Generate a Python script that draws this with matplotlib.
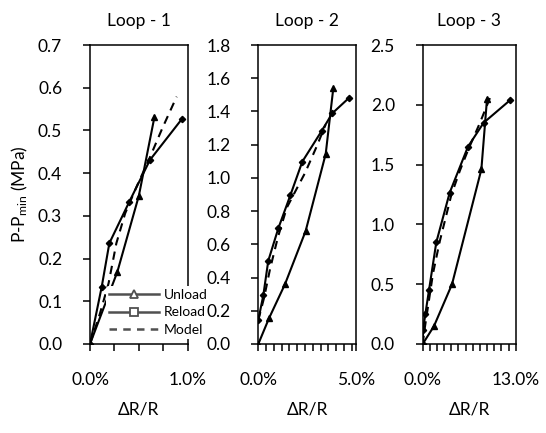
import matplotlib
matplotlib.use("Agg")
import matplotlib.pyplot as plt
from matplotlib.lines import Line2D
from matplotlib.ticker import FixedLocator, FuncFormatter

plt.rcParams['font.family'] = ['Lato', 'DejaVu Sans']
plt.rcParams['mathtext.fontset'] = 'custom'
plt.rcParams['mathtext.rm'] = 'Lato'
plt.rcParams['mathtext.it'] = 'Lato'

titles = ["Loop - 1", "Loop - 2", "Loop - 3"]

# Loop 1 (x in %)
unload1_x = [0, 0.28, 0.50, 0.66]
unload1_y = [0, 0.169, 0.347, 0.532]
reload1_x = [0, 0.12, 0.198, 0.40, 0.614, 0.938]
reload1_y = [0, 0.134, 0.236, 0.332, 0.431, 0.526]
model1_x = [0, 0.10, 0.19, 0.27, 0.36, 0.48, 0.60, 0.74, 0.887]
model1_y = [0, 0.07, 0.142, 0.236, 0.306, 0.37, 0.43, 0.505, 0.579]

# Loop 2
unload2_x = [0, 0.55, 1.37, 2.43, 3.46, 3.85]
unload2_y = [0, 0.155, 0.36, 0.68, 1.144, 1.54]
reload2_x = [0, 0.26, 0.51, 1.03, 1.65, 2.26, 3.25, 3.80, 4.67]
reload2_y = [0.144, 0.295, 0.50, 0.697, 0.897, 1.098, 1.282, 1.389, 1.483]
model2_x = [0, 0.30, 0.60, 1.00, 1.46, 1.95, 2.40, 3.00, 3.45]
model2_y = [0.144, 0.28, 0.45, 0.64, 0.82, 0.93, 1.03, 1.19, 1.32]

# Loop 3
unload3_x = [0, 1.58, 4.10, 8.2, 8.99]
unload3_y = [0, 0.15, 0.50, 1.46, 2.05]
reload3_x = [0, 0.04, 0.37, 0.88, 1.90, 3.77, 6.33, 8.52, 12.24]
reload3_y = [0, 0.117, 0.25, 0.45, 0.85, 1.265, 1.65, 1.85, 2.04]
model3_x = [0, 0.28, 1.44, 2.37, 4.0, 5.2, 6.33, 7.97, 9.69]
model3_y = [0, 0.13, 0.59, 0.855, 1.246, 1.45, 1.62, 1.845, 2.10]

xmax = [1.0, 5.0, 13.0]
xstep = [0.25, 0.4, 1.0]
ymax = [0.7, 1.8, 2.5]
ystep = [0.1, 0.2, 0.5]

data = [
    (unload1_x, unload1_y, reload1_x, reload1_y, model1_x, model1_y),
    (unload2_x, unload2_y, reload2_x, reload2_y, model2_x, model2_y),
    (unload3_x, unload3_y, reload3_x, reload3_y, model3_x, model3_y),
]

W, H = 546, 433
fig = plt.figure(figsize=(W / 100, H / 100), dpi=100)

lefts = [90, 258.3, 422.7]
widths = [97.7, 97.4, 93.0]
top, bottom = 45, 344

axes = []
for i in range(3):
    ax = fig.add_axes([lefts[i] / W, 1 - bottom / H, widths[i] / W, (bottom - top) / H])
    axes.append(ax)
    ux, uy, rx, ry, mx, my = data[i]
    ax.plot(rx, ry, color='black', lw=1.5, marker='D', ms=3.2, zorder=3)
    ax.plot(ux, uy, color='black', lw=1.5, marker='^', ms=3.8, zorder=3)
    ax.plot(mx, my, color='black', lw=1.5, ls=(0, (4, 3)), zorder=2)
    ax.set_xlim(0, xmax[i])
    ax.set_ylim(0, ymax[i])
    n = int(round(xmax[i] / xstep[i] + 1e-9))
    xt = [k * xstep[i] for k in range(n + 1) if k * xstep[i] <= xmax[i] + 1e-9]
    if abs(xt[-1] - xmax[i]) > 1e-9:
        xt.append(xmax[i])
    ax.xaxis.set_major_locator(FixedLocator(xt))
    xm = xmax[i]
    ax.xaxis.set_major_formatter(FuncFormatter(
        lambda v, p, xm=xm: (f"{v:.1f}%" if (abs(v) < 1e-9 or abs(v - xm) < 1e-9) else "")))
    ny = int(round(ymax[i] / ystep[i]))
    ax.set_yticks([k * ystep[i] for k in range(ny + 1)])
    ax.yaxis.set_major_formatter(FuncFormatter(lambda v, p: f"{v:.1f}"))
    ax.tick_params(direction='out', length=5, width=1.1, pad=15, labelsize=12.5, colors='black')
    for s in ax.spines.values():
        s.set_linewidth(1.1)
    ax.set_title(titles[i], fontsize=12.5, pad=14)
    ax.set_xlabel("ΔR/R", fontsize=12.5, labelpad=10)

axes[0].set_ylabel("P-P$_{\\mathrm{min}}$ (MPa)", fontsize=12.5, labelpad=6)

hc = '#505050'
handles = [
    Line2D([], [], color=hc, lw=1.8, marker='^', ms=6, mfc='white', mec=hc, mew=1.3),
    Line2D([], [], color=hc, lw=1.8, marker='s', ms=6, mfc='white', mec=hc, mew=1.3),
    Line2D([], [], color=hc, lw=1.8, ls=(0, (3, 2.5))),
]
leg = axes[0].legend(handles, ["Unload", "Reload", "Model"], loc='lower left',
                     bbox_to_anchor=(106 / W, 1 - 339 / H), bbox_transform=fig.transFigure,
                     frameon=True, fontsize=10, handlelength=3.6, handletextpad=0.35,
                     labelspacing=0.42, borderpad=0.2, borderaxespad=0)
leg.get_frame().set_edgecolor('none')
leg.get_frame().set_facecolor('white')
leg.get_frame().set_alpha(1)
leg.set_zorder(5)

fig.savefig("out.png", dpi=100)
